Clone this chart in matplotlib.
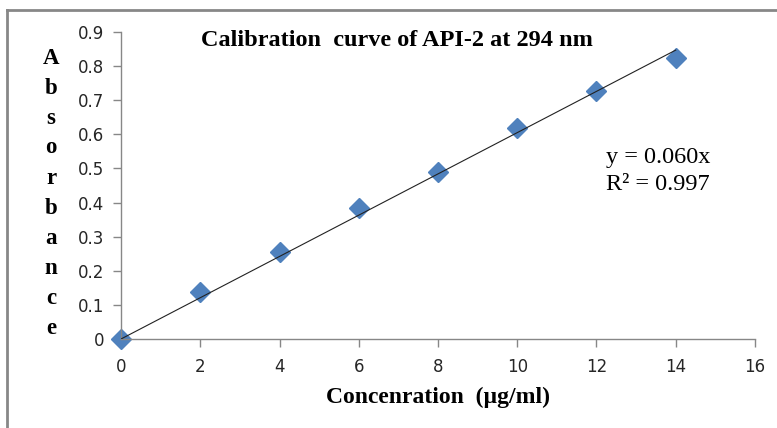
#!/usr/bin/env python3
import matplotlib.pyplot as plt
import matplotlib.lines as mlines
import numpy as np

# concentration (ug/ml) and absorbance
conc = [0, 2, 4, 6, 8, 10, 12, 14]
absorbance = [0.0, 0.138, 0.256, 0.385, 0.490, 0.620, 0.727, 0.825]
slope = 0.0605
xticks = [0, 2, 4, 6, 8, 10, 12, 14, 16]
yticks = [0, 0.1, 0.2, 0.3, 0.4, 0.5, 0.6, 0.7, 0.8, 0.9]
ylabel_letters = list("Absorbance")

W, H = 777, 428
fig = plt.figure(figsize=(W / 100, H / 100), dpi=100)

# axes box in pixels: x 121..755, y 32..339 (top-down)
ax = fig.add_axes([121 / W, 1 - 339 / H, (755 - 121) / W, (339 - 32) / H])
ax.set_xlim(0, 16)
ax.set_ylim(0, 0.9)

gray = "#878787"
for s in ["top", "right"]:
    ax.spines[s].set_visible(False)
for s in ["left", "bottom"]:
    ax.spines[s].set_color(gray)
    ax.spines[s].set_linewidth(1.0)

ax.set_xticks(xticks)
ax.set_yticks(yticks)
ax.set_xticklabels([str(t) for t in xticks])
ax.set_yticklabels(["0"] + ["%.1f" % t for t in yticks[1:]])
ax.tick_params(axis="both", color=gray, length=6, width=1.0,
               labelsize=12, labelcolor="#262626")
ax.tick_params(axis="x", pad=8)
ax.tick_params(axis="y", pad=6)
for lbl in ax.get_xticklabels() + ax.get_yticklabels():
    lbl.set_family("DejaVu Sans")

# trend line through origin
xl = np.array([0, 14])
ax.plot(xl, slope * xl, color="#222222", lw=0.8, zorder=3)
ax.plot(conc, absorbance, linestyle="none", marker="D", markersize=10.5,
        color="#4F81BD", markeredgecolor="#4F81BD", zorder=2, clip_on=False)

serif = "Liberation Serif"
fig.text(397 / W, 1 - 40 / H, "Calibration  curve of API-2 at 294 nm",
         ha="center", va="center", fontsize=17.5, fontweight="bold", family=serif)
fig.text(438 / W, 1 - 397 / H, "Concenration  (\u00b5g/ml)",
         ha="center", va="center", fontsize=17, fontweight="bold", family=serif)
for i, ch in enumerate(ylabel_letters):
    fig.text(51 / W, 1 - (58 + 30 * i) / H, ch, ha="center", va="center",
             fontsize=16.5, fontweight="bold", family=serif)

fig.text(606 / W, 1 - 157 / H, "y = 0.060x", ha="left", va="center",
         fontsize=17.5, family=serif)
fig.text(606 / W, 1 - 184 / H, "R\u00b2 = 0.997", ha="left", va="center",
         fontsize=17.5, family=serif)

# outer grey frame (open to the right and bottom)
fig.add_artist(mlines.Line2D([7 / W, 7 / W], [0, 1 - 10 / H],
                             transform=fig.transFigure, color=gray, lw=2))
fig.add_artist(mlines.Line2D([7 / W, 1], [1 - 10 / H, 1 - 10 / H],
                             transform=fig.transFigure, color=gray, lw=2))

fig.savefig("out.png", dpi=100)
